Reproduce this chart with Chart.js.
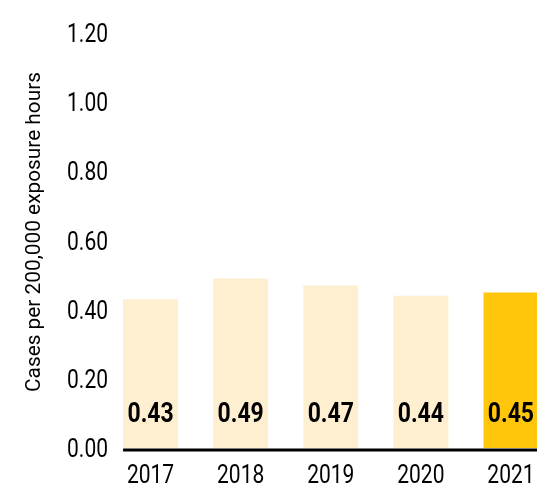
<!DOCTYPE html>
<html>
<head>
<meta charset="utf-8">
<script src="https://cdn.jsdelivr.net/npm/chart.js@4.4.0/dist/chart.umd.min.js"></script>
<style>
  html, body { margin: 0; padding: 0; background: #fff; overflow: hidden; }
  #wrap { width: 556px; height: 489px; }
</style>
</head>
<body>
<div id="wrap"><canvas id="chart" width="556" height="489"></canvas></div>
<script>
// chart data
const years = ['2017', '2018', '2019', '2020', '2021'];
const rates = [0.43, 0.49, 0.47, 0.44, 0.45];
const barColors = ['#FEEFD1', '#FEEFD1', '#FEEFD1', '#FEEFD1', '#FFC60B'];
const yTitle = 'Cases per 200,000 exposure hours';

const FONT = 'Roboto, "DejaVu Sans Condensed", sans-serif';

// no condensed face is installed, so squeeze text with fillText's maxWidth
function narrowText(ctx, text, x, y, ratio) {
  const w = ctx.measureText(text).width;
  ctx.fillText(text, x, y, w * ratio);
}

// values written near the bottom of each bar
const valueLabels = {
  id: 'valueLabels',
  afterDatasetsDraw(chart) {
    const ctx = chart.ctx;
    const meta = chart.getDatasetMeta(0);
    const base = chart.scales.y.getPixelForValue(0);
    ctx.save();
    ctx.font = 'bold 28px ' + FONT;
    ctx.fillStyle = '#000';
    ctx.textAlign = 'center';
    ctx.textBaseline = 'alphabetic';
    meta.data.forEach((bar, i) => {
      narrowText(ctx, rates[i].toFixed(2), bar.x, base - 26, 0.82);
    });
    ctx.restore();
  }
};

// tick labels, black baseline from the first bar, rotated axis title
const axesText = {
  id: 'axesText',
  afterDraw(chart) {
    const ctx = chart.ctx;
    const xs = chart.scales.x;
    const ys = chart.scales.y;
    const first = chart.getDatasetMeta(0).data[0];
    const y0 = ys.getPixelForValue(0);
    ctx.save();

    ctx.strokeStyle = '#000';
    ctx.lineWidth = 3;
    ctx.beginPath();
    ctx.moveTo(first.x - first.width / 2, y0 + 2);
    ctx.lineTo(chart.width, y0 + 2);
    ctx.stroke();

    ctx.fillStyle = '#000';
    ctx.font = '25px ' + FONT;
    ctx.textBaseline = 'alphabetic';

    ctx.textAlign = 'right';
    ys.ticks.forEach((t, i) => {
      narrowText(ctx, t.value.toFixed(2), 108, ys.getPixelForTick(i) + 9, 0.84);
    });

    ctx.textAlign = 'center';
    years.forEach((yr, i) => {
      narrowText(ctx, yr, xs.getPixelForTick(i), 483, 0.84);
    });

    ctx.translate(35, 232);
    ctx.rotate(-Math.PI / 2);
    ctx.font = '21px ' + FONT;
    ctx.textBaseline = 'middle';
    ctx.fillText(yTitle, 0, 0, 320);
    ctx.restore();
  }
};

new Chart(document.getElementById('chart'), {
  type: 'bar',
  data: {
    labels: years,
    datasets: [{
      data: rates,
      backgroundColor: barColors,
      borderWidth: 0,
      categoryPercentage: 1,
      barPercentage: 0.61
    }]
  },
  options: {
    responsive: false,
    animation: false,
    layout: { padding: { top: 33, right: 0, left: 0, bottom: 0 } },
    plugins: {
      legend: { display: false },
      tooltip: { enabled: false }
    },
    scales: {
      x: {
        grid: { display: false },
        border: { display: false },
        ticks: { display: false },
        afterFit: (scale) => { scale.height = 41; }
      },
      y: {
        min: 0,
        max: 1.2,
        grid: { display: false },
        border: { display: false },
        ticks: { display: false, stepSize: 0.2 },
        afterFit: (scale) => { scale.width = 105.5; }
      }
    }
  },
  plugins: [valueLabels, axesText]
});
</script>
</body>
</html>
